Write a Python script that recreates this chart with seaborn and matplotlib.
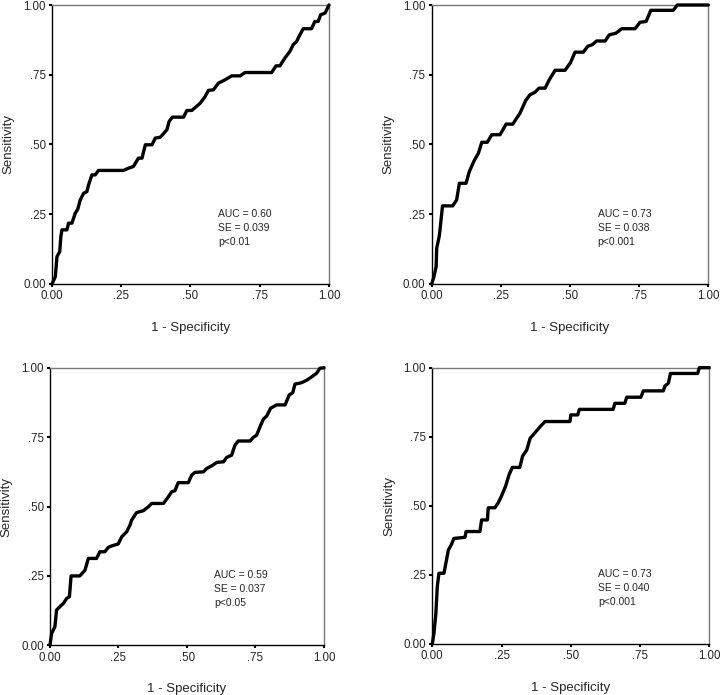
import matplotlib
matplotlib.use("Agg")
import matplotlib.pyplot as plt
import seaborn as sns
import pandas as pd

# ROC curves (1 - specificity, sensitivity)
fpr_a = [0, 0.012, 0.018, 0.028, 0.032, 0.036, 0.054, 0.06, 0.072, 0.084, 0.093, 0.102, 0.114, 0.126,
         0.132, 0.144, 0.156, 0.168, 0.258, 0.276, 0.294, 0.312, 0.325, 0.337, 0.361, 0.373, 0.391,
         0.415, 0.423, 0.435, 0.475, 0.487, 0.505, 0.535, 0.553, 0.565, 0.583, 0.601, 0.625, 0.649,
         0.679, 0.697, 0.793, 0.809, 0.823, 0.841, 0.859, 0.871, 0.883, 0.895, 0.907, 0.937, 0.949,
         0.961, 0.97, 0.986, 1.0]
tpr_a = [0, 0.026, 0.098, 0.116, 0.17, 0.194, 0.194, 0.218, 0.218, 0.254, 0.268, 0.301, 0.325, 0.331,
         0.355, 0.391, 0.391, 0.407, 0.407, 0.415, 0.421, 0.451, 0.451, 0.499, 0.499, 0.523, 0.526,
         0.553, 0.583, 0.598, 0.598, 0.622, 0.622, 0.648, 0.672, 0.694, 0.696, 0.72, 0.732, 0.746,
         0.746, 0.758, 0.758, 0.782, 0.782, 0.81, 0.834, 0.858, 0.869, 0.893, 0.915, 0.915, 0.941,
         0.941, 0.965, 0.971, 1.0]

fpr_b = [0, 0.008, 0.016, 0.018, 0.027, 0.03, 0.039, 0.076, 0.09, 0.1, 0.124, 0.136, 0.153, 0.169,
         0.181, 0.201, 0.217, 0.247, 0.269, 0.293, 0.319, 0.34, 0.355, 0.373, 0.388, 0.41, 0.425,
         0.446, 0.482, 0.502, 0.518, 0.548, 0.564, 0.581, 0.596, 0.627, 0.642, 0.666, 0.687, 0.735,
         0.753, 0.775, 0.792, 0.873, 0.888, 1.0]
tpr_b = [0, 0.026, 0.062, 0.128, 0.17, 0.194, 0.28, 0.28, 0.301, 0.361, 0.361, 0.403, 0.441, 0.469,
         0.508, 0.508, 0.535, 0.535, 0.573, 0.573, 0.612, 0.658, 0.678, 0.687, 0.702, 0.702, 0.732,
         0.766, 0.766, 0.794, 0.831, 0.831, 0.852, 0.858, 0.871, 0.871, 0.893, 0.899, 0.915, 0.915,
         0.938, 0.941, 0.981, 0.981, 1.0, 1.0]

fpr_c = [0, 0.006, 0.018, 0.024, 0.036, 0.049, 0.061, 0.071, 0.077, 0.109, 0.128, 0.14, 0.17, 0.182,
         0.2, 0.213, 0.225, 0.249, 0.262, 0.28, 0.292, 0.298, 0.316, 0.341, 0.359, 0.371, 0.414,
         0.432, 0.444, 0.456, 0.468, 0.505, 0.517, 0.529, 0.56, 0.572, 0.591, 0.609, 0.633, 0.645,
         0.663, 0.675, 0.687, 0.73, 0.742, 0.754, 0.769, 0.779, 0.791, 0.805, 0.827, 0.858, 0.873,
         0.886, 0.894, 0.918, 0.937, 0.955, 0.973, 0.985, 1.0]
tpr_c = [0, 0.043, 0.067, 0.127, 0.139, 0.151, 0.169, 0.175, 0.25, 0.25, 0.271, 0.313, 0.313, 0.337,
         0.337, 0.353, 0.358, 0.365, 0.391, 0.409, 0.433, 0.451, 0.478, 0.485, 0.499, 0.511, 0.511,
         0.535, 0.553, 0.557, 0.586, 0.586, 0.613, 0.623, 0.625, 0.637, 0.647, 0.659, 0.661, 0.677,
         0.685, 0.721, 0.736, 0.736, 0.749, 0.757, 0.793, 0.815, 0.826, 0.854, 0.866, 0.866, 0.902,
         0.91, 0.941, 0.946, 0.955, 0.967, 0.98, 0.998, 1.0]

fpr_d = [0, 0.006, 0.013, 0.018, 0.024, 0.042, 0.049, 0.058, 0.07, 0.078, 0.118, 0.122, 0.172, 0.178,
         0.199, 0.202, 0.226, 0.238, 0.25, 0.265, 0.277, 0.289, 0.316, 0.326, 0.341, 0.353, 0.371,
         0.389, 0.407, 0.497, 0.5, 0.525, 0.531, 0.653, 0.659, 0.695, 0.702, 0.753, 0.762, 0.834,
         0.84, 0.852, 0.86, 0.958, 0.964, 1.0]
tpr_d = [0, 0.039, 0.111, 0.207, 0.256, 0.256, 0.292, 0.34, 0.362, 0.382, 0.386, 0.407, 0.407, 0.449,
         0.449, 0.493, 0.493, 0.511, 0.536, 0.572, 0.612, 0.639, 0.639, 0.68, 0.702, 0.744, 0.765,
         0.786, 0.805, 0.805, 0.829, 0.829, 0.849, 0.849, 0.871, 0.871, 0.893, 0.893, 0.916, 0.916,
         0.934, 0.943, 0.979, 0.979, 1.0, 1.0]

auc_vals = ["0.60", "0.73", "0.59", "0.73"]
se_vals = ["0.039", "0.038", "0.037", "0.040"]
p_vals = ["p<0.01", "p<0.001", "p<0.05", "p<0.001"]

ticks = [0, 0.25, 0.5, 0.75, 1.0]
tick_labels = ["0.00", ".25", ".50", ".75", "1.00"]

sns.set_style("ticks")
plt.rcParams["font.family"] = ["Liberation Sans", "DejaVu Sans"]

fig = plt.figure(figsize=(7.2, 6.95), dpi=100)
positions = [
    [0.0722, 0.5914, 0.3847, 0.4014],
    [0.5996, 0.5914, 0.3842, 0.4014],
    [0.0694, 0.0715, 0.3806, 0.3994],
    [0.6004, 0.0734, 0.3847, 0.3976],
]
curves = [(fpr_a, tpr_a), (fpr_b, tpr_b), (fpr_c, tpr_c), (fpr_d, tpr_d)]

for i, (fpr, tpr) in enumerate(curves):
    ax = fig.add_axes(positions[i])
    df = pd.DataFrame({"fpr": fpr, "tpr": tpr})
    sns.lineplot(data=df, x="fpr", y="tpr", ax=ax, color="black", linewidth=2.4,
                 sort=False, estimator=None, clip_on=False, zorder=5)
    ax.set_xlim(0, 1)
    ax.set_ylim(0, 1)
    ax.set_xticks(ticks)
    ax.set_xticklabels(tick_labels)
    ax.set_yticks(ticks)
    ax.set_yticklabels(tick_labels)
    ax.tick_params(labelsize=8.3, length=2.5, width=1.5, color="black", pad=2)
    ax.set_xlabel("1 - Specificity", fontsize=9.5, labelpad=14)
    ax.set_ylabel("Sensitivity", fontsize=9.5, labelpad=6)
    for side in ["left", "bottom"]:
        ax.spines[side].set_color("black")
        ax.spines[side].set_linewidth(1.0)
    for side in ["top", "right"]:
        ax.spines[side].set_visible(True)
        ax.spines[side].set_color("#777777")
        ax.spines[side].set_linewidth(1.0)
    txt = f"AUC = {auc_vals[i]}\nSE = {se_vals[i]}\n{p_vals[i]}"
    ax.text(0.6, 0.27, txt, fontsize=7.5, va="top", ha="left", linespacing=1.5)

fig.savefig("out.png", dpi=100)
